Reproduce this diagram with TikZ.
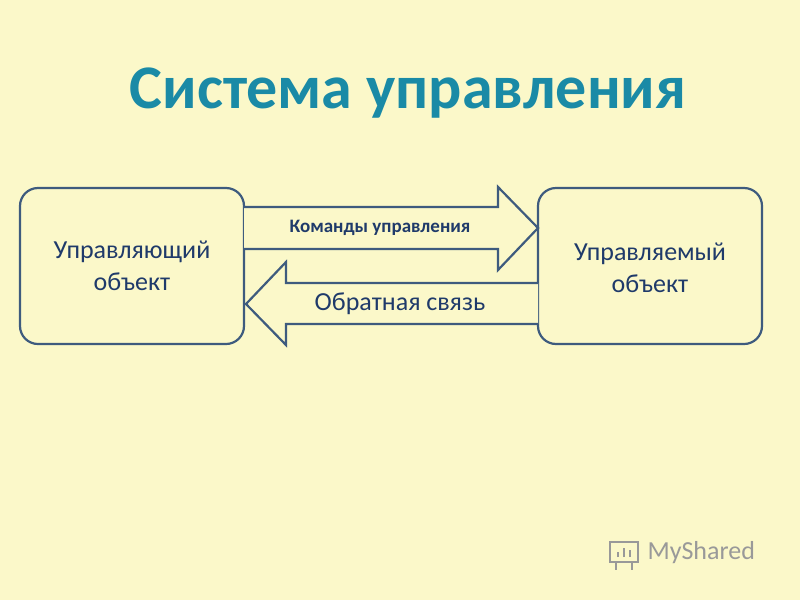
\documentclass[tikz,border=0pt]{standalone}
\usepackage{fontspec}
\setmainfont{Carlito}
\definecolor{bg}{HTML}{FBF8C9}
\definecolor{edge}{HTML}{3E5B7E}
\definecolor{txt}{HTML}{1F3A6A}
\definecolor{ttl}{HTML}{1A8AA6}
\tikzset{box/.style={draw=edge,line width=2.2pt,rounded corners=18pt,fill=bg},
 arr/.style={draw=edge,line width=2.2pt,fill=bg,line join=miter},
 lbl/.style={text=txt,font=\fontsize{26}{32}\selectfont,align=center}}
\begin{document}
\begin{tikzpicture}[x=1pt,y=-1pt]
\fill[bg] (0,0) rectangle (800,600);
\useasboundingbox (0,0) rectangle (800,600);
\node[text=ttl,draw=ttl!60!black,line width=0pt,font=\bfseries\fontsize{62}{66}\selectfont,draw=none] (title) at (408,93) {Система управления};
\draw[box] (20,188) rectangle (244,344);
\node[lbl] (left) at (132,266) {Управляющий\\объект};
\draw[box] (538,188) rectangle (762,344);
\node[lbl] (right) at (650,268) {Управляемый\\объект};
\draw[arr] (244,207) -- (498,207) -- (498,187) -- (538,228) -- (498,270) -- (498,249) -- (244,249);
\draw[arr] (538,283) -- (286,283) -- (286,262) -- (246,304) -- (286,345) -- (286,324) -- (538,324);
\node[text=txt,font=\bfseries\fontsize{19}{22}\selectfont] (cmd) at (380,228) {Команды управления};
\node[lbl] (fb) at (400,304) {Обратная связь};
\node[text=gray!80,font=\fontsize{26}{30}\selectfont,anchor=west] (logo) at (644,553) {MyShared};
\draw[gray!80,line width=2pt] (610,542) rectangle (638,562);
\draw[gray!80,line width=2pt] (616,562) -- (616,570) (632,562) -- (632,570) (618,557)--(618,552) (624,557)--(624,548) (630,557)--(630,550);
\end{tikzpicture}
\end{document}
